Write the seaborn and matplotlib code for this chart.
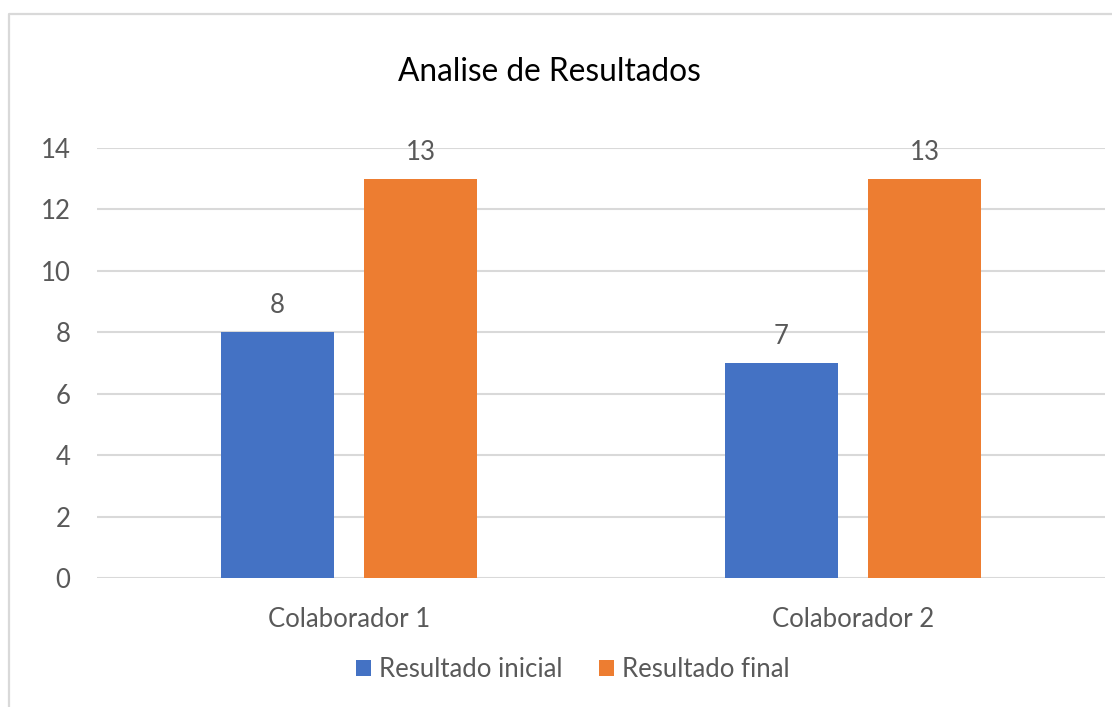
import pandas as pd
import seaborn as sns
import matplotlib.pyplot as plt
from matplotlib.lines import Line2D

# data
colaboradores = ["Colaborador 1", "Colaborador 2"]
resultado_inicial = [8, 7]
resultado_final = [13, 13]
series = ["Resultado inicial", "Resultado final"]
cores = ["#4472C4", "#ED7D31"]

df = pd.DataFrame({
    "colaborador": colaboradores * 2,
    "serie": [series[0]] * 2 + [series[1]] * 2,
    "valor": resultado_inicial + resultado_final,
})

sns.set_theme(style="white")
plt.rcParams["font.family"] = ["Lato", "DejaVu Sans"]
texto = "#595959"
fs = 18.5

fig = plt.figure(figsize=(11.12, 7.07), dpi=100)
ax = fig.add_axes([0.0872, 0.1825, 0.9065, 0.6082])

sns.barplot(data=df, x="colaborador", y="valor", hue="serie",
            palette=cores, width=0.567, gap=0.21, saturation=1,
            edgecolor="none", ax=ax)

for cont in ax.containers:
    ax.bar_label(cont, padding=10, fontsize=fs, color=texto)

ax.set_ylim(0, 14)
ax.set_yticks(range(0, 15, 2))
ax.set_xlim(-0.5, 1.5)
ax.yaxis.grid(True, color="#D9D9D9", linewidth=1.5)
ax.set_axisbelow(True)
for s in ax.spines.values():
    s.set_visible(False)
ax.tick_params(axis="y", length=0, pad=19, labelsize=fs, labelcolor=texto)
ax.tick_params(axis="x", length=0, pad=21, labelsize=fs, labelcolor=texto)
ax.set_xlabel("")
ax.set_ylabel("")

# titulo centrado na figura, nao no eixo
fig.text(549 / 1112, 1 - 72 / 707, "Analise de Resultados", fontsize=22.8,
         color="#000000", ha="center", va="center")

ax.legend(loc="upper center", bbox_to_anchor=(0.472, -0.13), ncol=2,
          frameon=False, fontsize=fs, labelcolor=texto,
          handlelength=0.58, handleheight=0.58, handletextpad=0.31,
          columnspacing=1.44)

# borda cinza do grafico (so o topo e a esquerda aparecem)
fig.add_artist(Line2D([9, 9, 1112], [0, 693, 693], transform=None,
                      color="#D9D9D9", linewidth=1.6))

fig.savefig("out.png", dpi=100)
